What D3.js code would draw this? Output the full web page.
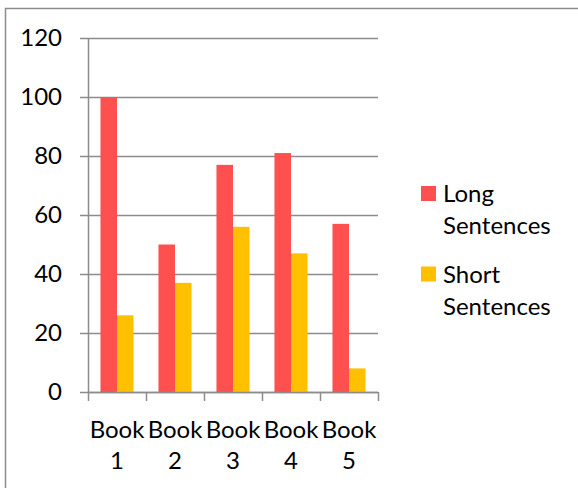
<!DOCTYPE html>
<html>
<head>
<meta charset="utf-8">
<script src="https://d3js.org/d3.v7.min.js"></script>
<style>
  html, body { margin: 0; padding: 0; background: #fff; }
  svg { display: block; }
  text { font-family: Lato, "Open Sans", sans-serif; fill: #000; }
</style>
</head>
<body>
<script>
// Chart data
const categories = [["Book", "1"], ["Book", "2"], ["Book", "3"], ["Book", "4"], ["Book", "5"]];
const longSentences = [100, 50, 77, 81, 57];
const shortSentences = [26, 37, 56, 47, 8];
const seriesNames = [["Long", "Sentences"], ["Short", "Sentences"]];
const seriesColors = ["#FF5050", "#FFC000"];
const yTicks = [0, 20, 40, 60, 80, 100, 120];

const W = 578, H = 488;
const FONT = 24;
const svg = d3.select("body").append("svg").attr("width", W).attr("height", H);

// Outer chart frame
svg.append("rect")
  .attr("x", 5.5).attr("y", 8.5)
  .attr("width", W + 10).attr("height", H + 10)
  .attr("fill", "none").attr("stroke", "#8c8c8c").attr("stroke-width", 1.5);

const plot = { left: 88, right: 378, top: 38, bottom: 392 };

const x = d3.scaleBand()
  .domain(d3.range(categories.length))
  .range([plot.left, plot.right])
  .paddingInner(0.43)
  .paddingOuter(0.215);

const sub = d3.scaleBand()
  .domain([0, 1])
  .range([0, x.bandwidth()]);

const y = d3.scaleLinear().domain([0, 120]).range([plot.bottom, plot.top]);

const gridColor = "#8c8c8c";

// Horizontal gridlines with ticks reaching left of the axis
svg.append("g")
  .selectAll("line")
  .data(yTicks)
  .join("line")
  .attr("x1", plot.left - 8).attr("x2", plot.right)
  .attr("y1", d => Math.round(y(d)) + 0.5).attr("y2", d => Math.round(y(d)) + 0.5)
  .attr("stroke", gridColor).attr("stroke-width", 1.5);

// Y axis labels
const yAxis = d3.axisLeft(y).tickValues(yTicks).tickSize(0).tickPadding(26);
const gy = svg.append("g").attr("transform", `translate(${plot.left},0)`).call(yAxis);
gy.select(".domain").remove();
gy.selectAll("text")
  .style("font-family", "Lato, 'Open Sans', sans-serif")
  .attr("font-size", FONT).attr("fill", "#000");

// Bars
const series = [longSentences, shortSentences];
series.forEach((vals, si) => {
  svg.append("g")
    .selectAll("rect")
    .data(vals)
    .join("rect")
    .attr("x", (d, i) => x(i) + sub(si))
    .attr("y", d => y(d))
    .attr("width", sub.bandwidth())
    .attr("height", d => y(0) - y(d))
    .attr("fill", seriesColors[si]);
});

// Y axis line
svg.append("line")
  .attr("x1", plot.left + 0.5).attr("x2", plot.left + 0.5)
  .attr("y1", plot.top).attr("y2", plot.bottom)
  .attr("stroke", gridColor).attr("stroke-width", 1.5);

// X axis baseline and category boundary ticks
const step = x.step();
const edges = d3.range(categories.length + 1).map(i => plot.left + i * step);
svg.append("line")
  .attr("x1", plot.left).attr("x2", plot.right)
  .attr("y1", plot.bottom + 0.5).attr("y2", plot.bottom + 0.5)
  .attr("stroke", gridColor).attr("stroke-width", 1.5);
svg.append("g")
  .selectAll("line")
  .data(edges)
  .join("line")
  .attr("x1", d => d + 0.5).attr("x2", d => d + 0.5)
  .attr("y1", plot.bottom).attr("y2", plot.bottom + 9)
  .attr("stroke", gridColor).attr("stroke-width", 1.5);

// Category labels (two lines each)
const xl = svg.append("g")
  .selectAll("text")
  .data(categories)
  .join("text")
  .attr("text-anchor", "middle")
  .attr("font-size", FONT);
xl.append("tspan")
  .attr("x", (d, i) => x(i) + x.bandwidth() / 2)
  .attr("y", 438)
  .text(d => d[0]);
xl.append("tspan")
  .attr("x", (d, i) => x(i) + x.bandwidth() / 2)
  .attr("y", 469)
  .text(d => d[1]);

// Legend
const legend = svg.append("g").selectAll("g")
  .data(seriesNames)
  .join("g")
  .attr("transform", (d, i) => `translate(421, ${186 + i * 80.5})`);
legend.append("rect")
  .attr("width", 15).attr("height", 15)
  .attr("fill", (d, i) => seriesColors[i]);
const lt = legend.append("text").attr("font-size", FONT);
lt.append("tspan").attr("x", 22).attr("y", 16).text(d => d[0]);
lt.append("tspan").attr("x", 22).attr("y", 48).text(d => d[1]);
</script>
</body>
</html>
